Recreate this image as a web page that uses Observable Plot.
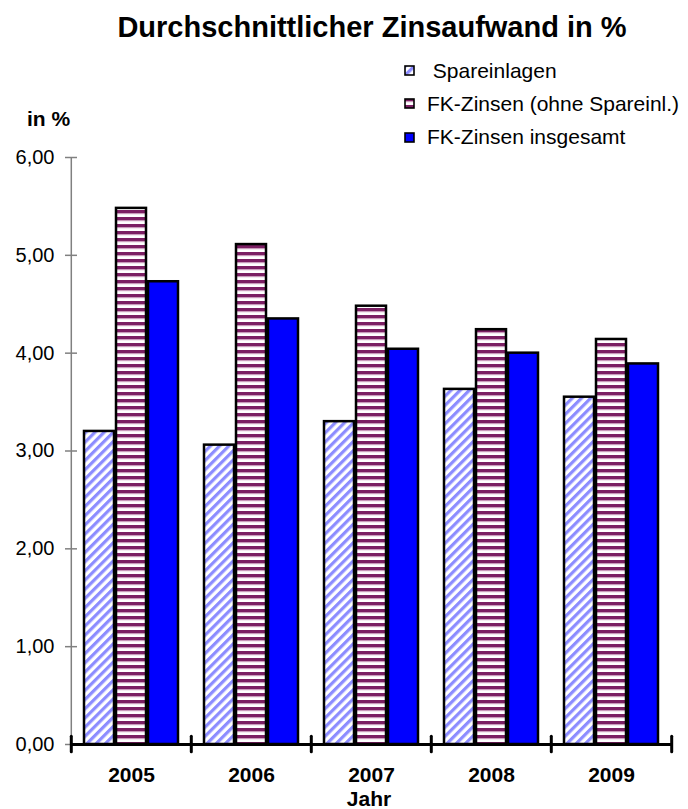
<!DOCTYPE html>
<html>
<head>
<meta charset="utf-8">
<script src="https://cdn.jsdelivr.net/npm/d3@7"></script>
<script src="https://cdn.jsdelivr.net/npm/@observablehq/plot@0.6"></script>
<style>
  html, body { margin: 0; padding: 0; background: #fff; }
  #chart { position: relative; width: 688px; height: 809px; font-family: "Liberation Sans", Arial, sans-serif; color: #000; }
  #chart svg.plot { position: absolute; left: 0; top: 0; }
  .title { position: absolute; left: 0; width: 744px; text-align: center; top: 13px; font-size: 29px; line-height: 29px; font-weight: bold; white-space: nowrap; }
  .unit { position: absolute; left: 27px; top: 108px; font-size: 21px; line-height: 21px; font-weight: bold; }
  .xlabel { position: absolute; left: 0; width: 738px; text-align: center; top: 788px; font-size: 21px; line-height: 21px; font-weight: bold; }
  .legend { position: absolute; left: 404px; top: 54px; font-size: 21px; }
  .legend .item { display: flex; align-items: center; height: 33.3px; white-space: nowrap; }
  .legend svg { margin-right: 12px; flex: none; }
</style>
</head>
<body>
<svg width="0" height="0" style="position:absolute">
  <defs>
    <pattern id="diag" width="6.5" height="6.5" patternUnits="userSpaceOnUse" patternTransform="rotate(45)">
      <rect width="6.5" height="6.5" fill="#ffffff"/>
      <rect width="3.2" height="6.5" fill="#8c8cff"/>
    </pattern>
    <pattern id="hstripe" width="7" height="7" patternUnits="userSpaceOnUse">
      <rect width="7" height="7" fill="#ffffff"/>
      <rect y="0" width="7" height="3" fill="#7b1f63"/>
      <rect y="3" width="7" height="1.2" fill="#c99bbb"/>
    </pattern>
  </defs>
</svg>
<div id="chart"></div>
<script>
// Durchschnittlicher Zinsaufwand in % (2005–2009)
const years = ["2005", "2006", "2007", "2008", "2009"];
const seriesNames = ["Spareinlagen", "FK-Zinsen (ohne Spareinl.)", "FK-Zinsen insgesamt"];
const spareinlagen = [3.20, 3.06, 3.30, 3.63, 3.55];
const fkOhneSpareinlagen = [5.48, 5.11, 4.48, 4.24, 4.14];
const fkInsgesamt = [4.73, 4.35, 4.04, 4.00, 3.89];
const yTicks = [0, 1, 2, 3, 4, 5, 6];
const seriesFills = ["url(#diag)", "url(#hstripe)", "#0000ff"];

const seriesValues = [spareinlagen, fkOhneSpareinlagen, fkInsgesamt];
const rows = years.flatMap((year, i) =>
  seriesNames.map((series, j) => ({year, series, value: seriesValues[j][i]}))
);

const W = 688, H = 809;
const margin = {top: 157, right: 16, bottom: 65, left: 70};
const facetW = (W - margin.left - margin.right) / years.length;
const fmt = (d) => d.toFixed(2).replace(".", ",");

const chart = Plot.plot({
  width: W,
  height: H,
  marginTop: margin.top,
  marginRight: margin.right,
  marginBottom: margin.bottom,
  marginLeft: margin.left,
  style: {fontFamily: '"Liberation Sans", Arial, sans-serif', color: "#000", background: "transparent", overflow: "visible"},
  fx: {domain: years, padding: 0, axis: null},
  x: {domain: seriesNames, paddingInner: 0, paddingOuter: 0.36, axis: null},
  y: {domain: [0, 6], axis: null},
  marks: [
    // bars, one mark per series
    ...seriesNames.map((s, j) =>
      Plot.barY(rows.filter((d) => d.series === s), {
        fx: "year", x: "series", y: "value",
        fill: seriesFills[j], stroke: "#000", strokeWidth: 2.5,
        insetLeft: 1, insetRight: 1
      })
    ),
    // value axis line
    Plot.ruleX([{year: years[0]}], {fx: "year", x: null, y1: 0, y2: 6, dx: -facetW / 2, stroke: "#808080", strokeWidth: 1.5}),
    // value axis ticks crossing the line
    Plot.axisY({ticks: yTicks, tickSize: 12, dx: 6, tickFormat: () => "", label: null, stroke: "#808080", strokeWidth: 1.5}),
    // value axis labels
    Plot.axisY({ticks: yTicks, tickSize: 0, tickPadding: 17, tickFormat: fmt, label: null, fontSize: 20}),
    // category axis line and group separators
    Plot.ruleY([0], {stroke: "#000", strokeWidth: 3}),
    Plot.ruleX(years.map((year) => ({year})), {fx: "year", x: null, y1: -0.08, y2: 0.08, dx: -facetW / 2, stroke: "#000", strokeWidth: 3, strokeLinecap: "round"}),
    Plot.ruleX([{year: years[years.length - 1]}], {fx: "year", x: null, y1: -0.08, y2: 0.08, dx: facetW / 2, stroke: "#000", strokeWidth: 3, strokeLinecap: "round"}),
    // year labels
    Plot.axisFx({anchor: "bottom", tickSize: 0, tickPadding: 23, fontSize: 21, fontWeight: "bold", label: null})
  ]
});
chart.classList.add("plot");

const root = document.getElementById("chart");
root.appendChild(chart);

const title = document.createElement("div");
title.className = "title";
title.textContent = "Durchschnittlicher Zinsaufwand in %";
root.appendChild(title);

const unit = document.createElement("div");
unit.className = "unit";
unit.textContent = "in %";
root.appendChild(unit);

const xlabel = document.createElement("div");
xlabel.className = "xlabel";
xlabel.textContent = "Jahr";
root.appendChild(xlabel);

const legend = document.createElement("div");
legend.className = "legend";
seriesNames.forEach((name, j) => {
  const item = document.createElement("div");
  item.className = "item";
  const sw = document.createElementNS("http://www.w3.org/2000/svg", "svg");
  sw.setAttribute("width", 11);
  sw.setAttribute("height", 11);
  const r = document.createElementNS("http://www.w3.org/2000/svg", "rect");
  r.setAttribute("x", 1); r.setAttribute("y", 1);
  r.setAttribute("width", 9); r.setAttribute("height", 9);
  r.setAttribute("fill", seriesFills[j]);
  r.setAttribute("stroke", "#000");
  r.setAttribute("stroke-width", 1.6);
  sw.appendChild(r);
  const label = document.createElement("span");
  label.textContent = (j === 0 ? "\u00a0" : "") + name;
  item.appendChild(sw);
  item.appendChild(label);
  legend.appendChild(item);
});
root.appendChild(legend);
</script>
</body>
</html>
